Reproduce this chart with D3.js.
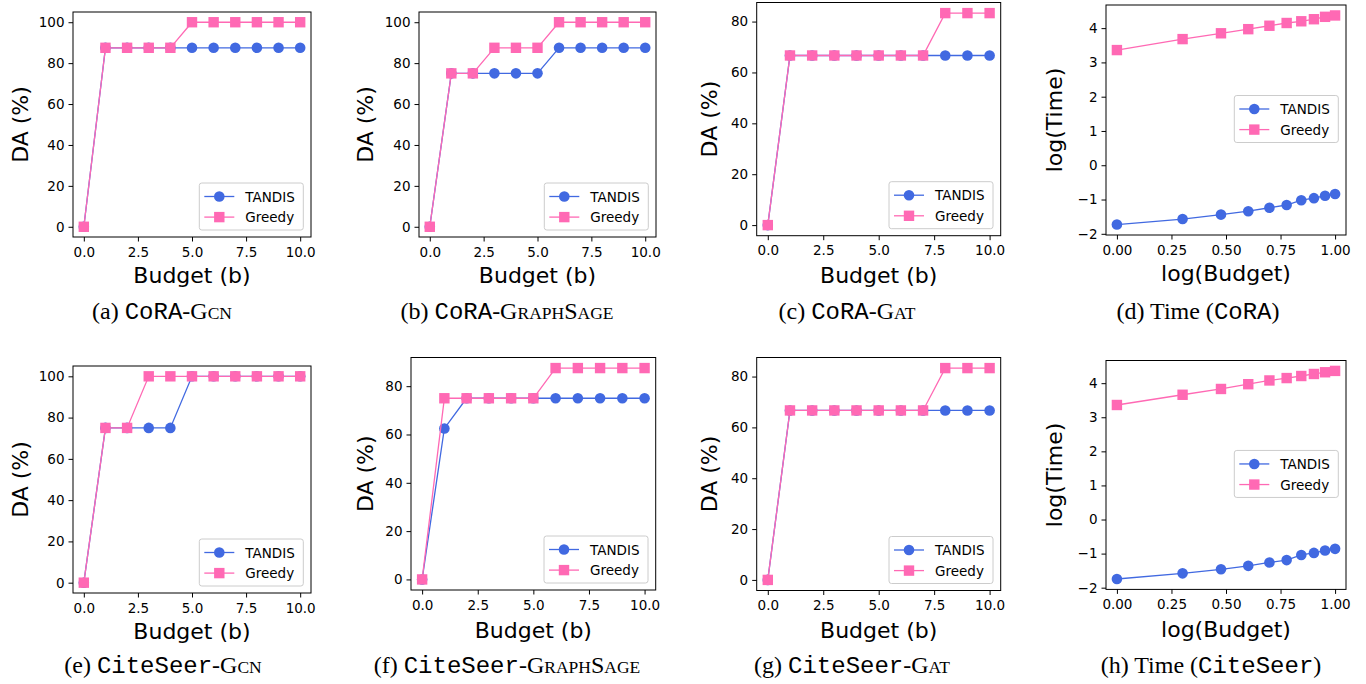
<!DOCTYPE html>
<html>
<head>
<meta charset="utf-8">
<script src="https://cdn.jsdelivr.net/npm/d3@7"></script>
<style>
  body { margin: 0; background: #fff; }
  svg { display: block; }
</style>
</head>
<body>
<div id="chart"></div>
<script>
// budgets on the x axis of the DA panels
var budget = [0, 1, 2, 3, 4, 5, 6, 7, 8, 9, 10];
// log10 of budgets 1..10, used by the time panels
var logBudget = [0, 0.301, 0.477, 0.602, 0.699, 0.778, 0.845, 0.903, 0.954, 1.0];

// DA (%) values
var coraGcnTandis  = [0, 87.5, 87.5, 87.5, 87.5, 87.5, 87.5, 87.5, 87.5, 87.5, 87.5];
var coraGcnGreedy  = [0, 87.5, 87.5, 87.5, 87.5, 100, 100, 100, 100, 100, 100];
var coraSageTandis = [0, 75, 75, 75, 75, 75, 87.5, 87.5, 87.5, 87.5, 87.5];
var coraSageGreedy = [0, 75, 75, 87.5, 87.5, 87.5, 100, 100, 100, 100, 100];
var coraGatTandis  = [0, 66.67, 66.67, 66.67, 66.67, 66.67, 66.67, 66.67, 66.67, 66.67, 66.67];
var coraGatGreedy  = [0, 66.67, 66.67, 66.67, 66.67, 66.67, 66.67, 66.67, 83.33, 83.33, 83.33];
var citeGcnTandis  = [0, 75, 75, 75, 75, 100, 100, 100, 100, 100, 100];
var citeGcnGreedy  = [0, 75, 75, 100, 100, 100, 100, 100, 100, 100, 100];
var citeSageTandis = [0, 62.5, 75, 75, 75, 75, 75, 75, 75, 75, 75];
var citeSageGreedy = [0, 75, 75, 75, 75, 75, 87.5, 87.5, 87.5, 87.5, 87.5];
var citeGatTandis  = [0, 66.67, 66.67, 66.67, 66.67, 66.67, 66.67, 66.67, 66.67, 66.67, 66.67];
var citeGatGreedy  = [0, 66.67, 66.67, 66.67, 66.67, 66.67, 66.67, 66.67, 83.33, 83.33, 83.33];

// log(Time) values
var coraTimeTandis = [-1.73, -1.57, -1.44, -1.34, -1.24, -1.16, -1.02, -0.96, -0.89, -0.84];
var coraTimeGreedy = [3.36, 3.68, 3.85, 3.97, 4.07, 4.15, 4.20, 4.26, 4.33, 4.37];
var citeTimeTandis = [-1.745, -1.58, -1.46, -1.36, -1.26, -1.19, -1.04, -0.98, -0.91, -0.86];
var citeTimeGreedy = [3.36, 3.66, 3.83, 3.97, 4.08, 4.15, 4.21, 4.27, 4.32, 4.36];

// tick labels
var budgetTicks = [0, 2.5, 5, 7.5, 10];
var logBudgetTicks = [0, 0.25, 0.5, 0.75, 1];
var daTicks100 = [0, 20, 40, 60, 80, 100];
var daTicks80 = [0, 20, 40, 60, 80];
var timeTicks = [-2, -1, 0, 1, 2, 3, 4];

var seriesNames = ["TANDIS", "Greedy"];
var colors = {TANDIS: "#4169e1", Greedy: "#ff69b4"};

var W = 1366, H = 684;
var svg = d3.select("#chart").append("svg")
    .attr("width", W)
    .attr("height", H);

var SANS = "'DejaVu Sans', sans-serif";
var SERIF = "'Liberation Serif', 'Times New Roman', serif";
var MONO = "'Liberation Mono', 'Courier New', monospace";

// one entry per subfigure
var panels = [
    {box: [73, 311, 12, 237], x: budget, tandis: coraGcnTandis, greedy: coraGcnGreedy,
     xt: budgetTicks, yt: daTicks100, xl: "Budget (b)", yl: "DA (%)", ylx: 28, xly: 283, legend: "lower",
     cap: [["(a) ", SERIF], ["CoRA", MONO], ["-G", SERIF], ["CN", SERIF, 1]], capX: 162, capY: 319},
    {box: [419, 656, 12, 237], x: budget, tandis: coraSageTandis, greedy: coraSageGreedy,
     xt: budgetTicks, yt: daTicks100, xl: "Budget (b)", yl: "DA (%)", ylx: 373, xly: 283, legend: "lower",
     cap: [["(b) ", SERIF], ["CoRA", MONO], ["-G", SERIF], ["RAPH", SERIF, 1], ["S", SERIF], ["AGE", SERIF, 1]], capX: 507, capY: 319},
    {box: [756.7, 1000.7, 2.5, 235.7], x: budget, tandis: coraGatTandis, greedy: coraGatGreedy,
     xt: budgetTicks, yt: daTicks80, xl: "Budget (b)", yl: "DA (%)", ylx: 717, xly: 283, legend: "lower",
     cap: [["(c) ", SERIF], ["CoRA", MONO], ["-G", SERIF], ["AT", SERIF, 1]], capX: 847, capY: 319},
    {box: [1106, 1346, 5, 235], x: logBudget, tandis: coraTimeTandis, greedy: coraTimeGreedy,
     xt: logBudgetTicks, yt: timeTicks, xl: "log(Budget)", yl: "log(Time)", ylx: 1062, xly: 281, legend: "center", xfmt: ".2f",
     cap: [["(d) Time (", SERIF], ["CoRA", MONO], [")", SERIF]], capX: 1198, capY: 319},
    {box: [73, 311, 366, 593], x: budget, tandis: citeGcnTandis, greedy: citeGcnGreedy,
     xt: budgetTicks, yt: daTicks100, xl: "Budget (b)", yl: "DA (%)", ylx: 28, xly: 639, legend: "lower",
     cap: [["(e) ", SERIF], ["CiteSeer", MONO], ["-G", SERIF], ["CN", SERIF, 1]], capX: 163, capY: 673},
    {box: [411, 655.7, 357.5, 590], x: budget, tandis: citeSageTandis, greedy: citeSageGreedy,
     xt: budgetTicks, yt: daTicks80, xl: "Budget (b)", yl: "DA (%)", ylx: 373, xly: 638, legend: "lower",
     cap: [["(f) ", SERIF], ["CiteSeer", MONO], ["-G", SERIF], ["RAPH", SERIF, 1], ["S", SERIF], ["AGE", SERIF, 1]], capX: 507, capY: 673},
    {box: [756.7, 1000.7, 357.5, 590.5], x: budget, tandis: citeGatTandis, greedy: citeGatGreedy,
     xt: budgetTicks, yt: daTicks80, xl: "Budget (b)", yl: "DA (%)", ylx: 717, xly: 638, legend: "lower",
     cap: [["(g) ", SERIF], ["CiteSeer", MONO], ["-G", SERIF], ["AT", SERIF, 1]], capX: 852, capY: 673},
    {box: [1106, 1346, 360.5, 589.4], x: logBudget, tandis: citeTimeTandis, greedy: citeTimeGreedy,
     xt: logBudgetTicks, yt: timeTicks, xl: "log(Budget)", yl: "log(Time)", ylx: 1062, xly: 637, legend: "center", xfmt: ".2f",
     cap: [["(h) Time (", SERIF], ["CiteSeer", MONO], [")", SERIF]], capX: 1211, capY: 673}
];

// matplotlib-like 5% padding of the data range
function padded(vals) {
    var ext = d3.extent(vals);
    var m = (ext[1] - ext[0]) * 0.05;
    return [ext[0] - m, ext[1] + m];
}

function drawMarker(g, name, cx, cy) {
    if (name === "TANDIS") {
        g.append("circle")
            .attr("cx", cx).attr("cy", cy).attr("r", 5.3)
            .attr("fill", colors[name]);
    } else {
        g.append("rect")
            .attr("x", cx - 5.2).attr("y", cy - 5.2)
            .attr("width", 10.4).attr("height", 10.4)
            .attr("fill", colors[name]);
    }
}

panels.forEach(function(p) {
    var left = p.box[0], right = p.box[1], top = p.box[2], bottom = p.box[3];
    var g = svg.append("g");

    var x = d3.scaleLinear().domain(padded(p.x)).range([left, right]);
    var y = d3.scaleLinear().domain(padded(p.tandis.concat(p.greedy))).range([bottom, top]);

    // axes
    var xAxis = g.append("g")
        .attr("transform", "translate(0," + bottom + ")")
        .call(d3.axisBottom(x).tickValues(p.xt).tickSize(4.5).tickPadding(5.5)
            .tickFormat(d3.format(p.xfmt || ".1f")));
    var yAxis = g.append("g")
        .attr("transform", "translate(" + left + ",0)")
        .call(d3.axisLeft(y).tickValues(p.yt).tickSize(4.5).tickPadding(4)
            .tickFormat(d3.format("d")));
    [xAxis, yAxis].forEach(function(a) {
        a.select(".domain").remove();
        a.selectAll("line").attr("stroke", "#000").attr("stroke-width", 1);
        a.selectAll("text")
            .attr("fill", "#000")
            .style("font-family", SANS)
            .style("font-size", "13.5px");
    });

    // series: line then markers, TANDIS first so Greedy lies on top
    seriesNames.forEach(function(name) {
        var vals = name === "TANDIS" ? p.tandis : p.greedy;
        var pts = vals.map(function(v, i) { return [p.x[i], v]; });
        g.append("path")
            .datum(pts)
            .attr("fill", "none")
            .attr("stroke", colors[name])
            .attr("stroke-width", 1.3)
            .attr("d", d3.line().x(function(d) { return x(d[0]); }).y(function(d) { return y(d[1]); }));
        pts.forEach(function(d) { drawMarker(g, name, x(d[0]), y(d[1])); });
    });

    // frame
    g.append("rect")
        .attr("x", left).attr("y", top)
        .attr("width", right - left).attr("height", bottom - top)
        .attr("fill", "none")
        .attr("stroke", "#000")
        .attr("stroke-width", 1);

    // legend
    var lw = 104, lh = 47;
    var lx = right - 7.7 - lw;
    var ly = p.legend === "lower" ? bottom - 7 - lh : (top + bottom) / 2 - lh / 2 - 1;
    var lg = g.append("g");
    lg.append("rect")
        .attr("x", lx).attr("y", ly)
        .attr("width", lw).attr("height", lh)
        .attr("rx", 2.5)
        .attr("fill", "#fff")
        .attr("fill-opacity", 0.8)
        .attr("stroke", "#cccccc")
        .attr("stroke-width", 1);
    seriesNames.forEach(function(name, i) {
        var ry = ly + 13.5 + i * 20.6;
        lg.append("line")
            .attr("x1", lx + 5).attr("x2", lx + 35)
            .attr("y1", ry).attr("y2", ry)
            .attr("stroke", colors[name])
            .attr("stroke-width", 1.3);
        drawMarker(lg, name, lx + 20, ry);
        lg.append("text")
            .attr("x", lx + 46).attr("y", ry + 5)
            .style("font-family", SANS)
            .style("font-size", "13.5px")
            .text(name);
    });

    // axis labels
    g.append("text")
        .attr("x", (left + right) / 2).attr("y", p.xly)
        .attr("text-anchor", "middle")
        .style("font-family", SANS)
        .style("font-size", "22px")
        .text(p.xl);
    g.append("text")
        .attr("transform", "translate(" + p.ylx + "," + (top + bottom) / 2 + ") rotate(-90)")
        .attr("text-anchor", "middle")
        .style("font-family", SANS)
        .style("font-size", "22px")
        .text(p.yl);

    // caption with mixed fonts and fake small caps
    var cap = g.append("text")
        .attr("x", p.capX).attr("y", p.capY)
        .attr("text-anchor", "middle");
    p.cap.forEach(function(part) {
        cap.append("tspan")
            .style("font-family", part[1])
            .style("font-size", part[2] ? "17.5px" : "24px")
            .text(part[0]);
    });
});
</script>
</body>
</html>
